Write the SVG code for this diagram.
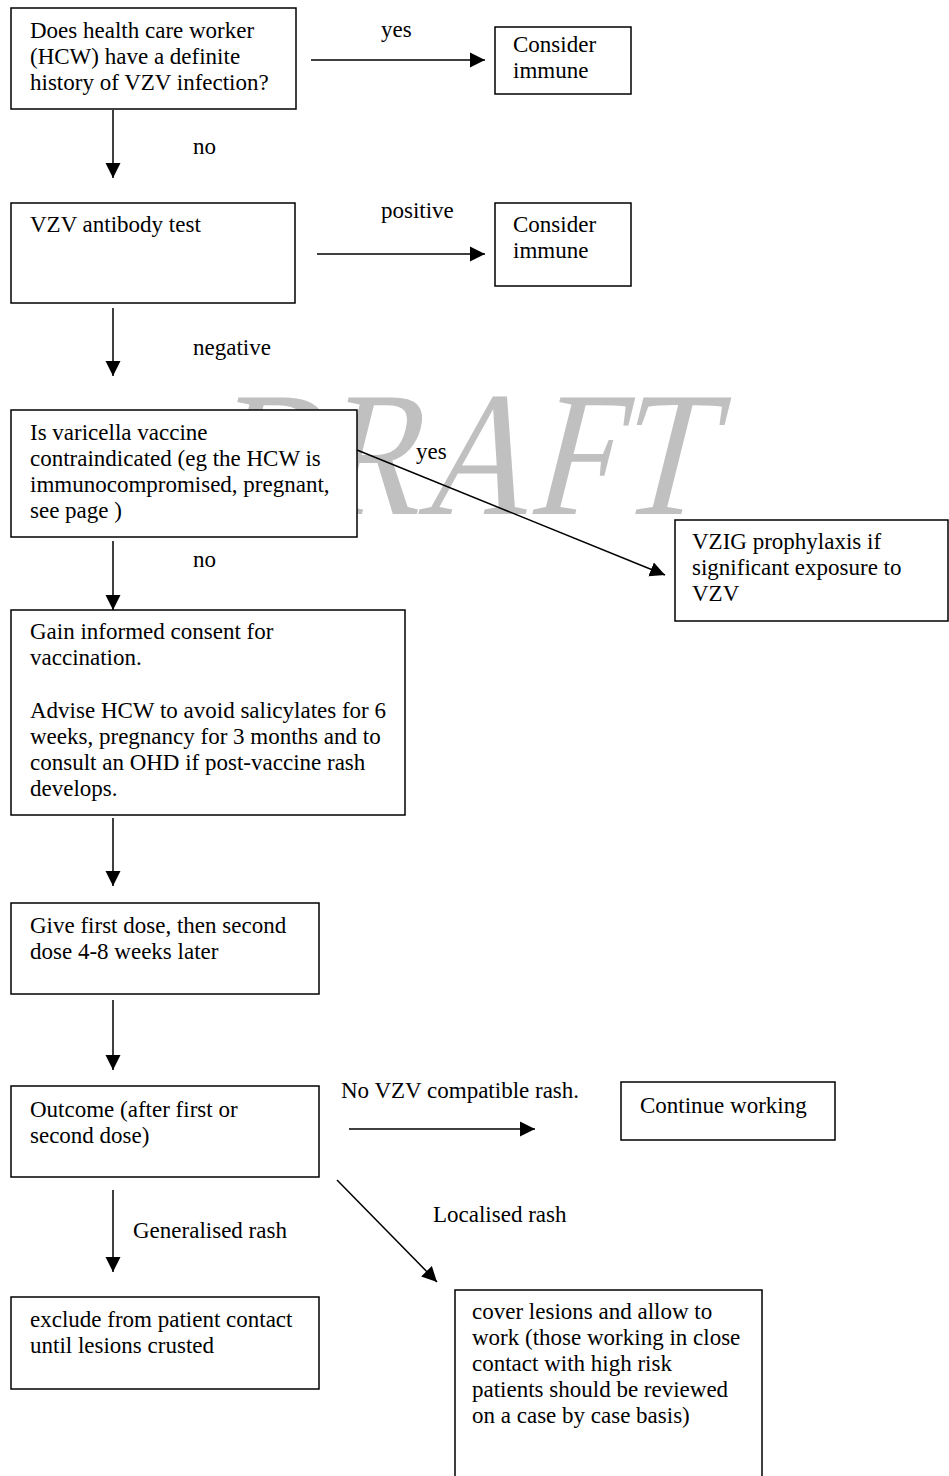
<svg xmlns="http://www.w3.org/2000/svg" width="949" height="1476" viewBox="0 0 949 1476">
<defs>
<marker id="ah" markerWidth="16" markerHeight="16" refX="15" refY="8" orient="auto" markerUnits="userSpaceOnUse">
<path d="M0,0.5 L15,8 L0,15.5 Z" fill="#000"/>
</marker>
<style>
.box{fill:#fff;stroke:#000;stroke-width:1.5}
.t{font-family:"Liberation Serif","Times New Roman",serif;font-size:23px;fill:#000}
.c{stroke:#000;stroke-width:1.5;fill:none;marker-end:url(#ah)}
.wm{font-family:"Liberation Serif","Times New Roman",serif;font-size:178px;fill:#c0c0c0}
</style>
</defs>
<rect width="949" height="1476" fill="#fff"/>
<text class="wm" transform="translate(205,514) skewX(-14)" x="0" y="0" textLength="500" lengthAdjust="spacingAndGlyphs">DRAFT</text>

<g id="n1"><rect class="box" x="11" y="8" width="285" height="101"/>
<text class="t" x="30" y="38">Does health care worker</text>
<text class="t" x="30" y="64">(HCW) have a definite</text>
<text class="t" x="30" y="90">history of VZV infection?</text></g>

<g id="n2"><rect class="box" x="495" y="27" width="136" height="67"/>
<text class="t" x="513" y="52">Consider</text>
<text class="t" x="513" y="78">immune</text></g>

<g id="n3"><rect class="box" x="11" y="203" width="284" height="100"/>
<text class="t" x="30" y="232">VZV antibody test</text></g>

<g id="n4"><rect class="box" x="495" y="203" width="136" height="83"/>
<text class="t" x="513" y="232">Consider</text>
<text class="t" x="513" y="258">immune</text></g>

<g id="n5"><rect class="box" x="11" y="410" width="346" height="127"/>
<text class="t" x="30" y="440">Is varicella vaccine</text>
<text class="t" x="30" y="466">contraindicated (eg the HCW is</text>
<text class="t" x="30" y="492">immunocompromised, pregnant,</text>
<text class="t" x="30" y="518">see page )</text></g>

<g id="n6"><rect class="box" x="675" y="520" width="273" height="101"/>
<text class="t" x="692" y="549">VZIG prophylaxis if</text>
<text class="t" x="692" y="575">significant exposure to</text>
<text class="t" x="692" y="601">VZV</text></g>

<g id="n7"><rect class="box" x="11" y="610" width="394" height="205"/>
<text class="t" x="30" y="639">Gain informed consent for</text>
<text class="t" x="30" y="665">vaccination.</text>
<text class="t" x="30" y="718">Advise HCW to avoid salicylates for 6</text>
<text class="t" x="30" y="744">weeks, pregnancy for 3 months and to</text>
<text class="t" x="30" y="770">consult an OHD if post-vaccine rash</text>
<text class="t" x="30" y="796">develops.</text></g>

<g id="n8"><rect class="box" x="11" y="903" width="308" height="91"/>
<text class="t" x="30" y="933">Give first dose, then second</text>
<text class="t" x="30" y="959">dose 4-8 weeks later</text></g>

<g id="n9"><rect class="box" x="11" y="1086" width="308" height="91"/>
<text class="t" x="30" y="1117">Outcome (after first or</text>
<text class="t" x="30" y="1143">second dose)</text></g>

<g id="n10"><rect class="box" x="621" y="1082" width="214" height="58"/>
<text class="t" x="640" y="1113">Continue working</text></g>

<g id="n11"><rect class="box" x="11" y="1297" width="308" height="92"/>
<text class="t" x="30" y="1327">exclude from patient contact</text>
<text class="t" x="30" y="1353">until lesions crusted</text></g>

<g id="n12"><rect class="box" x="455" y="1290" width="307" height="200"/>
<text class="t" x="472" y="1319">cover lesions and allow to</text>
<text class="t" x="472" y="1345">work (those working in close</text>
<text class="t" x="472" y="1371">contact with high risk</text>
<text class="t" x="472" y="1397">patients should be reviewed</text>
<text class="t" x="472" y="1423">on a case by case basis)</text></g>

<g id="connectors">
<line class="c" x1="311" y1="60" x2="485" y2="60"/>
<line class="c" x1="113" y1="110" x2="113" y2="178"/>
<line class="c" x1="317" y1="254" x2="485" y2="254"/>
<line class="c" x1="113" y1="308" x2="113" y2="376"/>
<line class="c" x1="357" y1="450" x2="665" y2="575"/>
<line class="c" x1="113" y1="541" x2="113" y2="610"/>
<line class="c" x1="113" y1="818" x2="113" y2="886"/>
<line class="c" x1="113" y1="1000" x2="113" y2="1070"/>
<line class="c" x1="349" y1="1129" x2="535" y2="1129"/>
<line class="c" x1="113" y1="1190" x2="113" y2="1272"/>
<line class="c" x1="337" y1="1180" x2="437" y2="1282"/>
<text class="t" x="381" y="37">yes</text>
<text class="t" x="193" y="154">no</text>
<text class="t" x="381" y="218">positive</text>
<text class="t" x="193" y="355">negative</text>
<text class="t" x="416" y="459">yes</text>
<text class="t" x="193" y="567">no</text>
<text class="t" x="341" y="1098">No VZV compatible rash.</text>
<text class="t" x="133" y="1238">Generalised rash</text>
<text class="t" x="433" y="1222">Localised rash</text>
</g>
</svg>
